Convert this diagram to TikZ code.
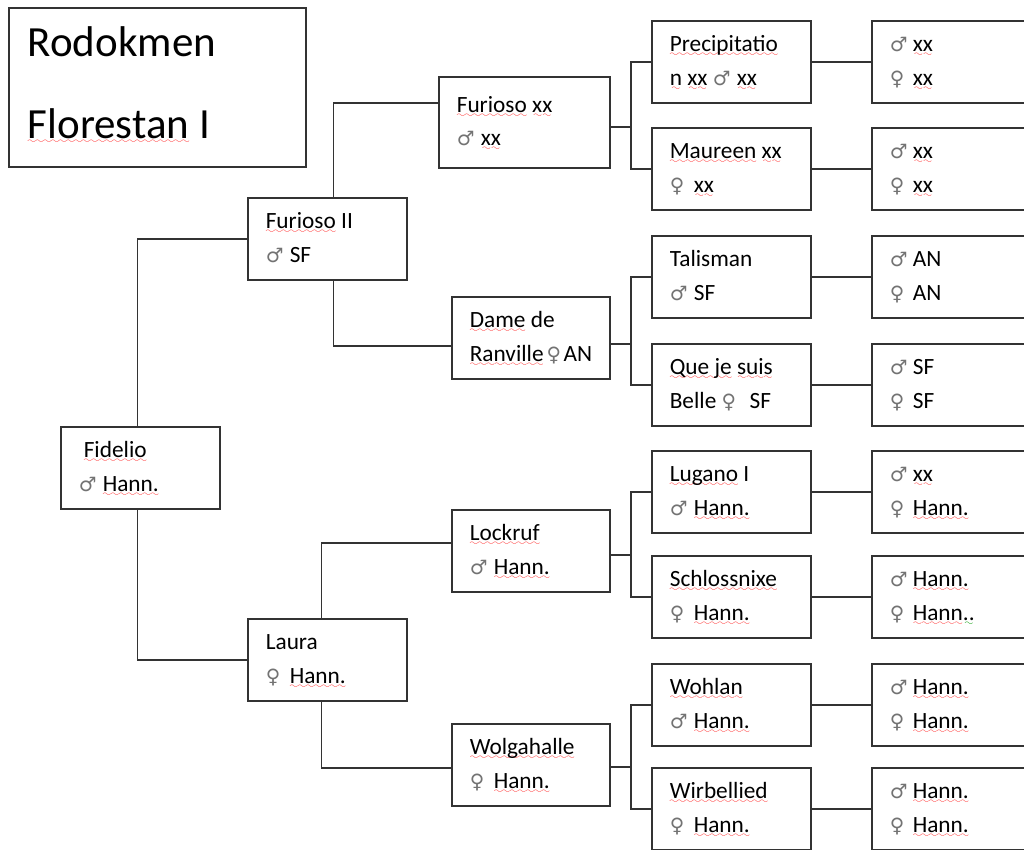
\documentclass[tikz,border=0pt]{standalone}
\usepackage{fontspec}
\setmainfont{Carlito}
\newfontfamily\symfont[Scale=0.85]{DejaVu Sans}
\usepackage{tikz}

% red and green spelling waves
\font\wavefont=lasy6 at 9pt
\newsavebox\sqbox
\newcommand\wavy[2]{\leavevmode\sbox\sqbox{#2}\rlap{\lower5pt\hbox to\wd\sqbox{\color{#1}\xleaders\hbox{\wavefont\char58}\hfil}}\usebox\sqbox}
\newcommand\sq[1]{\wavy{red!80}{#1}}
\newcommand\gq[1]{\wavy{green!60!black}{#1}}
\newcommand\msym[1][24pt]{\makebox[#1][l]{\symfont\color{black!55}♂}}
\newcommand\fsym[1][24pt]{\makebox[#1][l]{\symfont\color{black!55}♀}}

\begin{document}
\begin{tikzpicture}[x=1pt, y=-1pt,
    box/.style={draw=black!80, line width=1.6pt, anchor=north west, align=flush left,
      inner xsep=18pt, inner ysep=0pt, text width=123pt, minimum width=159pt,
      minimum height=82pt, font=\fontsize{23.3}{33.5}\selectfont},
    far/.style={box, text width=164pt, minimum width=200pt},
    line/.style={draw=black!80, line width=1.6pt}]

            \path[fill=white, use as bounding box] (0,0) rectangle (1024,850);
            \clip (0,0) rectangle (1024,850);

            \node[box, text width=259pt, minimum width=297pt, minimum height=159pt,
              inner xsep=19pt, font=\fontsize{43}{82}\selectfont] (title) at (8,7)
              {\rule{0pt}{45pt}Rodokmen\\\sq{Florestan} I\rule[-25pt]{0pt}{0pt}};

            % generations 1 and 2
            \node[box] (fid) at (60,426) {\strut\hspace{5pt}\sq{Fidelio}\\\msym\sq{Hann.}\strut};
            \node[box] (fur2) at (247,197) {\strut\sq{Furioso} II\\\msym SF\strut};
            \node[box] (laura) at (247,618) {\strut Laura\\\fsym\sq{Hann.}\strut};

            % generation 3
            \node[box, text width=135pt, minimum width=171pt, minimum height=91pt] (furxx) at (438,76) {\strut\sq{Furioso} \sq{xx}\\\msym\sq{xx}\strut};
            \node[box, text width=122pt, minimum width=158pt] (dame) at (451,296) {\strut\sq{Dame} de\\\sq{Ranville}\kern3pt\fsym[17pt]AN\strut};
            \node[box, text width=122pt, minimum width=158pt] (lock) at (451,509) {\strut\sq{Lockruf}\\\msym\sq{Hann.}\strut};
            \node[box, text width=122pt, minimum width=158pt] (wolga) at (451,723) {\strut\sq{Wolgahalle}\\\fsym\sq{Hann.}\strut};

            % generation 4
            \node[box] (prec) at (651,20) {\strut\sq{Precipitatio}\\\sq{n} \sq{xx} \msym\sq{xx}\strut};
            \node[box] (maur) at (651,127) {\strut\sq{Maureen} \sq{xx}\\\fsym\sq{xx}\strut};
            \node[box] (tali) at (651,235) {\strut Talisman\\\msym SF\strut};
            \node[box] (que) at (651,343) {\strut\sq{Que je} \sq{suis}\\Belle \fsym[28pt]SF\strut};
            \node[box] (lug) at (651,450) {\strut\sq{Lugano} I\\\msym\sq{Hann.}\strut};
            \node[box] (schl) at (651,555) {\strut\sq{Schlossnixe}\\\fsym\sq{Hann.}\strut};
            \node[box] (wohl) at (651,663) {\strut\sq{Wohlan}\\\msym\sq{Hann.}\strut};
            \node[box] (wirb) at (651,767) {\strut\sq{Wirbellied}\\\fsym\sq{Hann.}\strut};

            % generation 5
            \node[far] (r1) at (871,20) {\strut\msym[23pt]\sq{xx}\\\fsym[23pt]\sq{xx}\strut};
            \node[far] (r2) at (871,127) {\strut\msym[23pt]\sq{xx}\\\fsym[23pt]\sq{xx}\strut};
            \node[far] (r3) at (871,235) {\strut\msym[23pt]AN\\\fsym[23pt]AN\strut};
            \node[far] (r4) at (871,343) {\strut\msym[23pt]SF\\\fsym[23pt]SF\strut};
            \node[far] (r5) at (871,450) {\strut\msym[23pt]\sq{xx}\\\fsym[23pt]\sq{Hann.}\strut};
            \node[far] (r6) at (871,555) {\strut\msym[23pt]\sq{Hann.}\\\fsym[23pt]\sq{Hann}\gq{..}\strut};
            \node[far] (r7) at (871,663) {\strut\msym[23pt]\sq{Hann.}\\\fsym[23pt]\sq{Hann.}\strut};
            \node[far] (r8) at (871,767) {\strut\msym[23pt]\sq{Hann.}\\\fsym[23pt]\sq{Hann.}\strut};

            \coordinate (j1) at (631,127);
            \coordinate (j2) at (631,344);
            \coordinate (j3) at (631,555);
            \coordinate (j4) at (631,767);

            \draw[line] ([xshift=-3pt]fid.north) |- (fur2.west);
            \draw[line] ([xshift=-3pt]fid.south) |- (laura.west);
            \draw[line] ([xshift=6pt]fur2.north) |- ([yshift=19pt]furxx.west);
            \draw[line] ([xshift=6pt]fur2.south) |- ([yshift=-8pt]dame.west);
            \draw[line] ([xshift=-6pt]laura.north) |- ([yshift=8pt]lock.west);
            \draw[line] ([xshift=-6pt]laura.south) |- ([yshift=-3pt]wolga.west);

            \draw[line] (furxx.east |- j1) -- (j1);
            \draw[line] (prec.west) -| (j1) |- (maur.west);
            \draw[line] (dame.east |- j2) -- (j2);
            \draw[line] (tali.west) -| (j2) |- (que.west);
            \draw[line] (lock.east |- j3) -- (j3);
            \draw[line] (lug.west) -| (j3) |- (schl.west);
            \draw[line] (wolga.east |- j4) -- (j4);
            \draw[line] (wohl.west) -| (j4) |- (wirb.west);

            \draw[line] (prec.east) -- (r1.west);
            \draw[line] (maur.east) -- (r2.west);
            \draw[line] (tali.east) -- (r3.west);
            \draw[line] (que.east) -- (r4.west);
            \draw[line] (lug.east) -- (r5.west);
            \draw[line] (schl.east) -- (r6.west);
            \draw[line] (wohl.east) -- (r7.west);
            \draw[line] (wirb.east) -- (r8.west);

\end{tikzpicture}
\end{document}
